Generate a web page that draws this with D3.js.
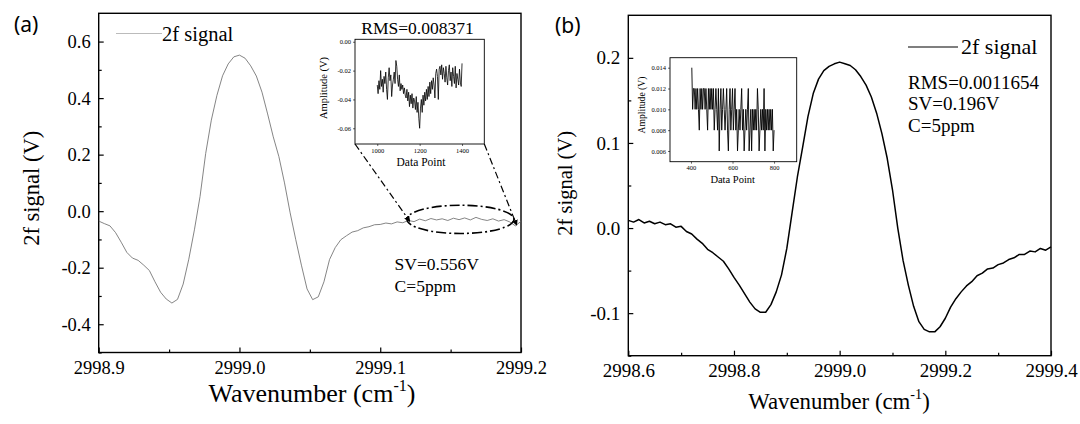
<!DOCTYPE html>
<html>
<head>
<meta charset="utf-8">
<script src="https://cdn.jsdelivr.net/npm/d3@7"></script>
<style>
body { margin: 0; background: #fff; }
text { font-family: "Liberation Serif", "Times New Roman", serif; fill: #000; }
</style>
</head>
<body>
<div class="container"></div>
<script>
// ---- data ----

// (a) 2f trace, one value every 0.004 cm-1 starting at 2998.9
var waveAStart = 2998.9, waveAStep = 0.004;
var signalA = [
  -0.035, -0.044, -0.052, -0.076, -0.110, -0.146, -0.166, -0.174, -0.191, -0.210,
  -0.250, -0.287, -0.311, -0.325, -0.312, -0.258, -0.170, -0.066, 0.052, 0.204,
  0.322, 0.410, 0.479, 0.521, 0.546, 0.552, 0.541, 0.514, 0.478, 0.421,
  0.344, 0.263, 0.193, 0.100, -0.006, -0.101, -0.191, -0.275, -0.313, -0.303,
  -0.250, -0.171, -0.129, -0.101, -0.087, -0.074, -0.069, -0.059, -0.055, -0.048,
  -0.047, -0.042, -0.045, -0.038, -0.041, -0.033, -0.037, -0.028, -0.034, -0.026,
  -0.031, -0.027, -0.033, -0.025, -0.030, -0.024, -0.031, -0.022, -0.029, -0.033,
  -0.027, -0.035, -0.030, -0.038, -0.052, -0.036
];

// (a) inset, data points 1000..1400 every 4
var insetAStart = 1000, insetAStep = 4;
var insetA = [
  -0.030, -0.036, -0.027, -0.033, -0.020, -0.031, -0.026, -0.035, -0.024, -0.029,
  -0.021, -0.033, -0.040, -0.025, -0.018, -0.027, -0.023, -0.038, -0.030, -0.026,
  -0.021, -0.029, -0.013, -0.017, -0.026, -0.031, -0.023, -0.034, -0.029, -0.033,
  -0.030, -0.036, -0.032, -0.037, -0.039, -0.033, -0.041, -0.035, -0.045, -0.037,
  -0.043, -0.036, -0.046, -0.039, -0.041, -0.047, -0.038, -0.049, -0.042, -0.053,
  -0.060, -0.046, -0.040, -0.049, -0.037, -0.044, -0.035, -0.041, -0.033, -0.040,
  -0.031, -0.038, -0.028, -0.036, -0.027, -0.033, -0.025, -0.030, -0.039, -0.022,
  -0.019, -0.024, -0.040, -0.019, -0.017, -0.023, -0.016, -0.026, -0.018, -0.022,
  -0.028, -0.017, -0.025, -0.030, -0.020, -0.016, -0.027, -0.021, -0.031, -0.018,
  -0.024, -0.029, -0.017, -0.032, -0.022, -0.026, -0.030, -0.019, -0.028, -0.031,
  -0.015
];

// (b) 2f trace, one value every 0.01 cm-1 starting at 2998.6
var waveBStart = 2998.6, waveBStep = 0.01;
var signalB = [
  0.009, 0.007, 0.010, 0.006, 0.008, 0.005, 0.007, 0.004, 0.005, 0.001,
  0.002, -0.004, -0.007, -0.013, -0.018, -0.025, -0.029, -0.034, -0.039, -0.048,
  -0.058, -0.067, -0.077, -0.087, -0.095, -0.099, -0.099, -0.090, -0.075, -0.055,
  -0.024, 0.018, 0.060, 0.095, 0.131, 0.158, 0.175, 0.185, 0.190, 0.193,
  0.195, 0.193, 0.191, 0.186, 0.178, 0.168, 0.154, 0.135, 0.111, 0.082,
  0.045, 0.000, -0.038, -0.067, -0.092, -0.110, -0.119, -0.122, -0.122, -0.116,
  -0.106, -0.093, -0.083, -0.075, -0.068, -0.063, -0.056, -0.053, -0.048, -0.047,
  -0.043, -0.041, -0.037, -0.035, -0.031, -0.031, -0.027, -0.028, -0.024, -0.026,
  -0.022
];

// (b) inset, data points 404..800 every 4 (mV)
var insetBStart = 404, insetBStep = 4;
var insetB = [
  14, 10, 12, 12, 10, 12, 10, 12, 10, 8,
  12, 10, 12, 10, 12, 12, 10, 12, 10, 8,
  12, 10, 12, 10, 12, 10, 12, 8, 10, 12,
  10, 8, 12, 6, 10, 12, 8, 10, 12, 10,
  8, 10, 12, 8, 6, 10, 12, 8, 10, 12,
  8, 10, 12, 8, 10, 6, 8, 10, 8, 10,
  12, 8, 10, 6, 8, 10, 8, 10, 12, 6,
  8, 10, 6, 10, 8, 10, 8, 10, 8, 12,
  10, 6, 8, 10, 8, 10, 8, 12, 6, 10,
  8, 10, 8, 10, 8, 10, 8, 10, 6, 8
];

// ticks
var ticksAX = [2998.9, 2999.0, 2999.1, 2999.2];
var minorAX = [2998.95, 2999.05, 2999.15];
var ticksAY = [-0.4, -0.2, 0, 0.2, 0.4, 0.6];
var minorAY = [-0.5, -0.3, -0.1, 0.1, 0.3, 0.5];
var ticksBX = [2998.6, 2998.8, 2999.0, 2999.2, 2999.4];
var minorBX = [2998.7, 2998.9, 2999.1, 2999.3];
var ticksBY = [-0.1, 0, 0.1, 0.2];
var minorBY = [-0.15, -0.05, 0.05, 0.15];
var ticksInAX = [1000, 1200, 1400];
var ticksInAY = [0, -0.02, -0.04, -0.06];
var ticksInBX = [400, 600, 800];
var ticksInBY = [0.006, 0.008, 0.010, 0.012, 0.014];

// zoomed region marked on (a)
var zoomEllipse = {cx: 2999.157, cy: -0.029, rx: 0.038, ry: 0.05};
var zoomEnds = [[2999.121, -0.036], [2999.197, -0.050]];

// ---- drawing ----
var SERIF = '"Liberation Serif", "Times New Roman", serif';

var svg = d3.select('.container').append('svg')
  .attr('width', 1080)
  .attr('height', 424);

var minus = function(f){ return function(d){ return d3.format(f)(d).replace('\u2212', '-'); }; };

var xA = d3.scaleLinear().domain([2998.9, 2999.2]).range([98.7, 521]);
var yA = d3.scaleLinear().domain([-0.5, 0.7]).range([352.5, 13.3]);
var xB = d3.scaleLinear().domain([2998.6, 2999.4]).range([628.3, 1051]);
var yB = d3.scaleLinear().domain([-0.15, 0.25]).range([355.7, 15.3]);

var xInA = d3.scaleLinear().domain([895, 1505]).range([355, 484.3]);
var yInA = d3.scaleLinear().domain([-0.0709, 0.0017]).range([144, 39.3]);
var xInB = d3.scaleLinear().domain([299, 909]).range([670, 796.7]);
var yInB = d3.scaleLinear().domain([0.00497, 0.01496]).range([161.7, 57.7]);

function frame(g, x, y, w) {
  g.append('rect')
    .attr('x', x.range()[0]).attr('y', y.range()[1])
    .attr('width', x.range()[1] - x.range()[0])
    .attr('height', y.range()[0] - y.range()[1])
    .attr('fill', 'none').attr('stroke', '#000').attr('stroke-width', w);
}

function styleAxis(a, size, w) {
  a.attr('font-family', null).attr('font-size', null);
  a.select('.domain').remove();
  a.selectAll('line').attr('stroke', '#000').attr('stroke-width', w);
  a.selectAll('text')
    .style('font-family', SERIF)
    .style('font-size', size + 'px')
    .attr('fill', '#000');
}

// main axes with inward ticks
function mainAxes(x, y, xt, xm, yt, ym, size) {
  var bottom = y.range()[0], left = x.range()[0];
  var g = svg.append('g');
  g.append('g').attr('transform', 'translate(0,' + bottom + ')')
    .call(d3.axisBottom(x).tickValues(xm).tickSize(-3).tickFormat(''))
    .call(styleAxis, size, 1.2);
  g.append('g').attr('transform', 'translate(0,' + bottom + ')')
    .call(d3.axisBottom(x).tickValues(xt).tickSize(-5).tickPadding(8).tickFormat(minus('.1f')))
    .call(styleAxis, size, 1.2);
  g.append('g').attr('transform', 'translate(' + left + ',0)')
    .call(d3.axisLeft(y).tickValues(ym).tickSize(-3).tickFormat(''))
    .call(styleAxis, size, 1.2);
  g.append('g').attr('transform', 'translate(' + left + ',0)')
    .call(d3.axisLeft(y).tickValues(yt).tickSize(-5).tickPadding(8).tickFormat(minus('.1f')))
    .call(styleAxis, size, 1.2);
  frame(g, x, y, 1.4);
}

// small inset axes, outward ticks
function insetAxes(x, y, xt, yt, yf) {
  var bottom = y.range()[0], left = x.range()[0];
  var g = svg.append('g');
  g.append('rect')
    .attr('x', x.range()[0]).attr('y', y.range()[1])
    .attr('width', x.range()[1] - x.range()[0])
    .attr('height', y.range()[0] - y.range()[1])
    .attr('fill', '#fff');
  g.append('g').attr('transform', 'translate(0,' + bottom + ')')
    .call(d3.axisBottom(x).tickValues(xt).tickSize(2).tickPadding(2).tickFormat(d3.format('d')))
    .call(styleAxis, 6.5, 0.6);
  g.append('g').attr('transform', 'translate(' + left + ',0)')
    .call(d3.axisLeft(y).tickValues(yt).tickSize(2).tickPadding(2).tickFormat(minus(yf)))
    .call(styleAxis, 6.5, 0.6);
  frame(g, x, y, 0.9);
  return g;
}

function label(txt, x, y, size, rot) {
  var t = svg.append('text')
    .attr('text-anchor', 'middle')
    .style('font-size', size + 'px')
    .text(txt);
  if (rot) t.attr('transform', 'translate(' + x + ',' + y + ') rotate(-90)');
  else t.attr('x', x).attr('y', y);
  return t;
}

function waveLabel(x, y, size) {
  var t = svg.append('text').attr('x', x).attr('y', y)
    .attr('text-anchor', 'middle').style('font-size', size + 'px');
  t.append('tspan').text('Wavenumber (cm');
  t.append('tspan').attr('dy', -size * 0.42).style('font-size', (size * 0.62) + 'px').text('-1');
  t.append('tspan').attr('dy', size * 0.42).text(')');
}

//Panel (a)
mainAxes(xA, yA, ticksAX, minorAX, ticksAY, minorAY, 18.5);

var lineA = d3.line()
  .x(function(d, i){ return xA(waveAStart + i * waveAStep); })
  .y(function(d){ return yA(d); });

svg.append('path').datum(signalA)
  .attr('d', lineA)
  .attr('fill', 'none').attr('stroke', '#666').attr('stroke-width', 0.8);

svg.append('ellipse')
  .attr('cx', xA(zoomEllipse.cx)).attr('cy', yA(zoomEllipse.cy))
  .attr('rx', xA(zoomEllipse.cx + zoomEllipse.rx) - xA(zoomEllipse.cx))
  .attr('ry', yA(zoomEllipse.cy - zoomEllipse.ry) - yA(zoomEllipse.cy))
  .attr('fill', 'none').attr('stroke', '#000').attr('stroke-width', 1.6)
  .attr('stroke-dasharray', '10,3,2,3');

svg.append('defs').append('marker')
  .attr('id', 'arr').attr('viewBox', '0 0 10 10')
  .attr('refX', 9).attr('refY', 5)
  .attr('markerWidth', 5).attr('markerHeight', 5)
  .attr('orient', 'auto')
  .append('path').attr('d', 'M0,0 L10,5 L0,10 z').attr('fill', '#000');

// dash-dot lines from inset corners down to the marked region
var corners = [[xInA.range()[0], yInA.range()[0]], [xInA.range()[1], yInA.range()[0]]];
zoomEnds.forEach(function(e, i){
  svg.append('line')
    .attr('x1', corners[i][0]).attr('y1', corners[i][1])
    .attr('x2', xA(e[0])).attr('y2', yA(e[1]))
    .attr('stroke', '#000').attr('stroke-width', 1.2)
    .attr('stroke-dasharray', '7,3,2,3')
    .attr('marker-end', 'url(#arr)');
});

insetAxes(xInA, yInA, ticksInAX, ticksInAY, '.2f');
svg.append('path').datum(insetA)
  .attr('d', d3.line()
    .x(function(d, i){ return xInA(insetAStart + i * insetAStep); })
    .y(function(d){ return yInA(d); }))
  .attr('fill', 'none').attr('stroke', '#000').attr('stroke-width', 0.8);

label('Amplitude (V)', 327, 88, 10.5, true);
label('Data Point', 421, 165.5, 11.5);
label('RMS=0.008371', 417.5, 34.3, 17.5);

svg.append('line').attr('x1', 116).attr('x2', 162).attr('y1', 33.5).attr('y2', 33.5)
  .attr('stroke', '#bbb').attr('stroke-width', 1);
svg.append('text').attr('x', 162).attr('y', 40.5).style('font-size', '20.5px').text('2f signal');

svg.append('text').attr('x', 394.6).attr('y', 270).style('font-size', '17.5px').text('SV=0.556V');
svg.append('text').attr('x', 394.6).attr('y', 291.7).style('font-size', '17.5px').text('C=5ppm');

label('2f signal (V)', 38.5, 188.3, 22.5, true);
waveLabel(312, 401.5, 26);

svg.append('text').attr('x', 14).attr('y', 32)
  .style('font-family', '"Noto Sans", "Liberation Sans", sans-serif')
  .style('font-size', '21px').text('(a)');

//Panel (b)
mainAxes(xB, yB, ticksBX, minorBX, ticksBY, minorBY, 19);

svg.append('path').datum(signalB)
  .attr('d', d3.line()
    .x(function(d, i){ return xB(waveBStart + i * waveBStep); })
    .y(function(d){ return yB(d); }))
  .attr('fill', 'none').attr('stroke', '#000').attr('stroke-width', 1.5)
  .attr('stroke-linejoin', 'round');

insetAxes(xInB, yInB, ticksInBX, ticksInBY, '.3f');
svg.append('path').datum(insetB)
  .attr('d', d3.line()
    .x(function(d, i){ return xInB(insetBStart + i * insetBStep); })
    .y(function(d){ return yInB(d / 1000); }))
  .attr('fill', 'none').attr('stroke', '#000').attr('stroke-width', 0.9);

label('Amplitude (V)', 645, 105, 9.6, true);
label('Data Point', 732.7, 183, 10.5);

svg.append('line').attr('x1', 908).attr('x2', 958).attr('y1', 47).attr('y2', 47)
  .attr('stroke', '#000').attr('stroke-width', 1.2);
svg.append('text').attr('x', 961).attr('y', 54).style('font-size', '22px').text('2f signal');

svg.append('text').attr('x', 908).attr('y', 88.5).style('font-size', '19px').text('RMS=0.0011654');
svg.append('text').attr('x', 908).attr('y', 110).style('font-size', '19px').text('SV=0.196V');
svg.append('text').attr('x', 908).attr('y', 131.7).style('font-size', '19px').text('C=5ppm');

label('2f signal (V)', 571.5, 183.3, 20.5, true);
waveLabel(839, 409, 22.8);

svg.append('text').attr('x', 555).attr('y', 33)
  .style('font-family', '"Noto Sans", "Liberation Sans", sans-serif')
  .style('font-size', '21px').text('(b)');
</script>
</body>
</html>
